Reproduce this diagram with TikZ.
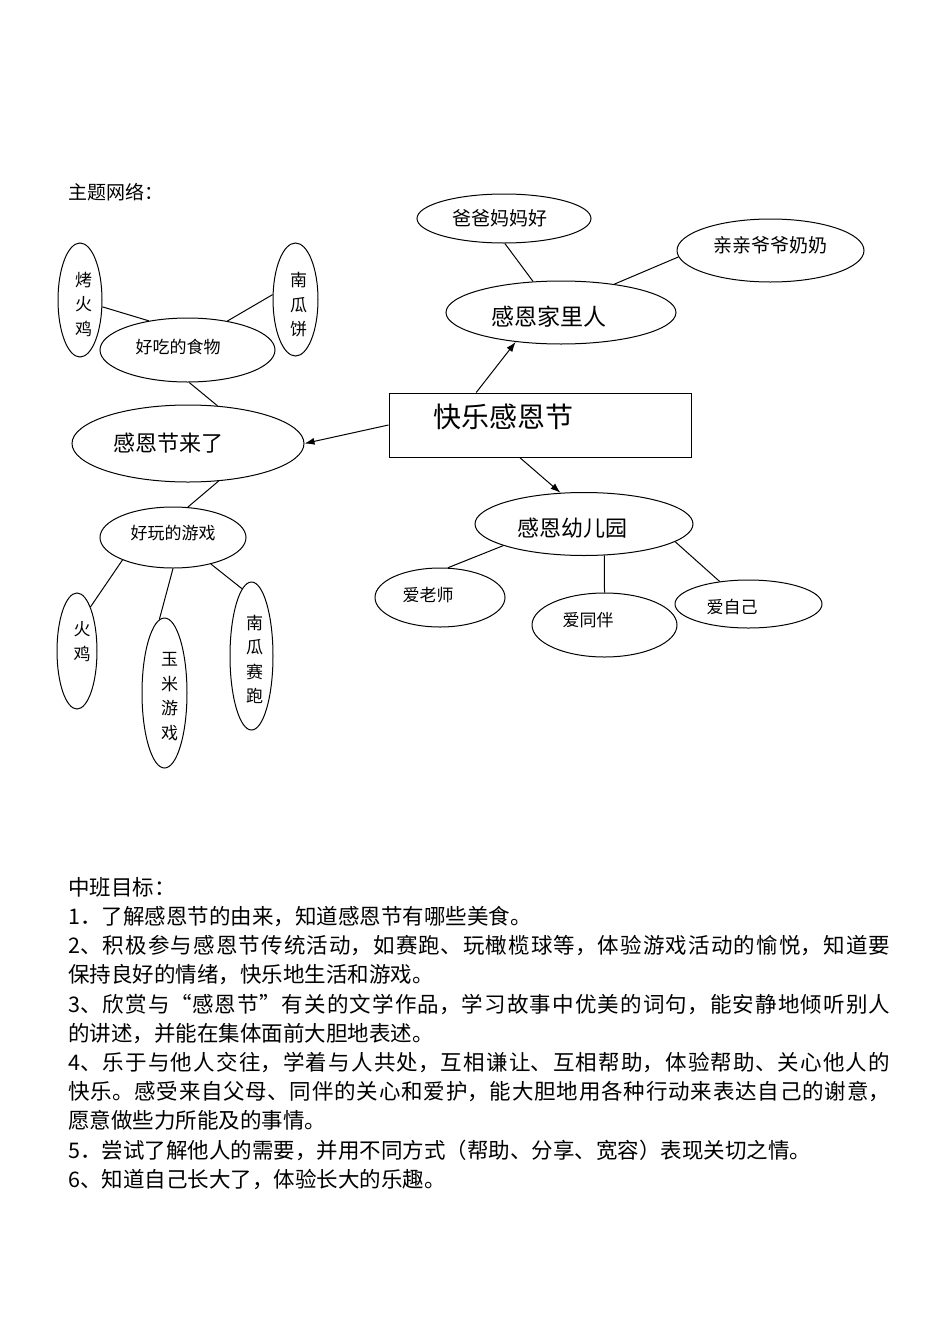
\documentclass[tikz,border=0pt]{standalone}
\usepackage{fontspec}
\setmainfont{Noto Sans CJK SC}
\usetikzlibrary{shapes.geometric,arrows.meta}
\XeTeXlinebreaklocale "zh"
\XeTeXlinebreakskip=0pt plus 3pt
\newcommand\fsz[2]{\fontsize{#1}{#2}\selectfont}
\begin{document}
\begin{tikzpicture}[x=1pt,y=-1pt,
  ell/.style={ellipse, draw, line width=1pt, inner sep=0pt},
  lt/.style={inner sep=0pt, align=center, font=\fsz{17}{24.5}},
  ltb/.style={inner sep=0pt, align=center, font=\fsz{22}{26}},
  conn/.style={line width=1pt},
  arr/.style={line width=1pt, -{Latex[length=10pt,width=7pt]}}]
\fill[white] (0,0) rectangle (950,1344);
\useasboundingbox (0,0) rectangle (950,1344);

\node[anchor=west, inner sep=0pt, font=\fsz{19}{22}] (title) at (68,192) {主题网络：};

% central box
\node[draw, line width=1pt, minimum width=302pt, minimum height=64pt, inner sep=0pt,
  label={[inner sep=0pt, font=\fsz{28}{30}, xshift=-37pt, yshift=8pt]center:快乐感恩节}] (main) at (540,425) {};

% left branch
\node[ell, minimum width=232pt, minimum height=77pt,
  label={[ltb, xshift=-20pt, yshift=0.5pt]center:感恩节来了}] (fest) at (188,443.5) {};
\node[ell, minimum width=175pt, minimum height=64pt,
  label={[lt, xshift=-9.5pt, yshift=3pt]center:好吃的食物}] (food) at (187.5,350) {};
\node[ell, minimum width=44pt, minimum height=114pt,
  label={[lt, xshift=3.5pt, yshift=-4pt]center:烤\\火\\鸡}] (kao) at (80,300) {};
\node[ell, minimum width=45pt, minimum height=113pt,
  label={[lt, xshift=3pt, yshift=-5.5pt]center:南\\瓜\\饼}] (bing) at (295.5,299.5) {};
\node[ell, minimum width=146pt, minimum height=61pt,
  label={[lt, yshift=4.5pt]center:好玩的游戏}] (games) at (173,537.5) {};
\node[ell, minimum width=40pt, minimum height=116pt,
  label={[lt, xshift=5pt, yshift=9.5pt]center:火\\鸡}] (huoji) at (77,651) {};
\node[ell, minimum width=45pt, minimum height=150pt,
  label={[lt, xshift=5pt, yshift=-3.5pt]center:玉\\米\\游\\戏}] (corn) at (164.5,693) {};
\node[ell, minimum width=43pt, minimum height=148pt,
  label={[lt, xshift=3pt, yshift=-3.5pt]center:南\\瓜\\赛\\跑}] (race) at (251.5,656) {};

% upper right branch
\node[ell, minimum width=230pt, minimum height=63pt,
  label={[ltb, font=\fsz{23}{26}, xshift=-12pt, yshift=-4.5pt]center:感恩家里人}] (family) at (561,312.5) {};
\node[ell, minimum width=174pt, minimum height=49pt,
  label={[lt, font=\fsz{19}{22}, xshift=-4.5pt]center:爸爸妈妈好}] (parents) at (504,218.5) {};
\node[ell, minimum width=187pt, minimum height=63pt,
  label={[lt, font=\fsz{19}{22}, yshift=5.5pt]center:亲亲爷爷奶奶}] (grand) at (770.5,250.5) {};

% lower right branch
\node[ell, minimum width=218pt, minimum height=63pt,
  label={[ltb, xshift=-12pt, yshift=-4pt]center:感恩幼儿园}] (kinder) at (584,524) {};
\node[ell, minimum width=130pt, minimum height=59pt,
  label={[lt, xshift=-12pt, yshift=2.5pt]center:爱老师}] (teacher) at (440,597.5) {};
\node[ell, minimum width=145pt, minimum height=64pt,
  label={[lt, xshift=-16.5pt, yshift=5pt]center:爱同伴}] (peer) at (604.5,625) {};
\node[ell, minimum width=147pt, minimum height=48pt,
  label={[lt, xshift=-16.5pt, yshift=-3pt]center:爱自己}] (self) at (748.5,604) {};

% connectors
\draw[arr] (main.west) -- (fest.east);
\draw[arr] (main.153.4) -- (family.-147.4);
\draw[arr] (main.-122) -- (kinder.127);

\draw[conn] (kao.-17) -- (food.143);
\draw[conn] (bing.168) -- (food.36);
\draw[conn] (food.-87) -- (fest.52);
\draw[conn] (fest.-51.5) -- (games.64);
\draw[conn] (games.-156) -- (huoji.73.6);
\draw[conn] (games.-90) -- (corn.94);
\draw[conn] (games.-35) -- (race.98);

\draw[conn] (parents.-88) -- (family.132.5);
\draw[conn] (grand.-176) -- (family.28.5);

\draw[conn] (kinder.-165.5) -- (teacher.75);
\draw[conn] (kinder.-57.5) -- (peer.north);
\draw[conn] (kinder.-11.5) -- (self.142);

% goals text
\node[anchor=north west, text width=822pt, align=justify, inner sep=0pt, font=\fsz{21.5}{29.2}] (goals) at (68,877) {%
中班目标：\par
1．了解感恩节的由来，知道感恩节有哪些美食。\par
2、积极参与感恩节传统活动，如赛跑、玩橄榄球等，体验游戏活动的愉悦，知道要\linebreak 保持良好的情绪，快乐地生活和游戏。\par
3、欣赏与“感恩节”有关的文学作品，学习故事中优美的词句，能安静地倾听别人\linebreak 的讲述，并能在集体面前大胆地表述。\par
4、乐于与他人交往，学着与人共处，互相谦让、互相帮助，体验帮助、关心他人的\linebreak 快乐。感受来自父母、同伴的关心和爱护，能大胆地用各种行动来表达自己的谢意，\linebreak 愿意做些力所能及的事情。\par
5．尝试了解他人的需要，并用不同方式（帮助、分享、宽容）表现关切之情。\par
6、知道自己长大了，体验长大的乐趣。};
\end{tikzpicture}
\end{document}
